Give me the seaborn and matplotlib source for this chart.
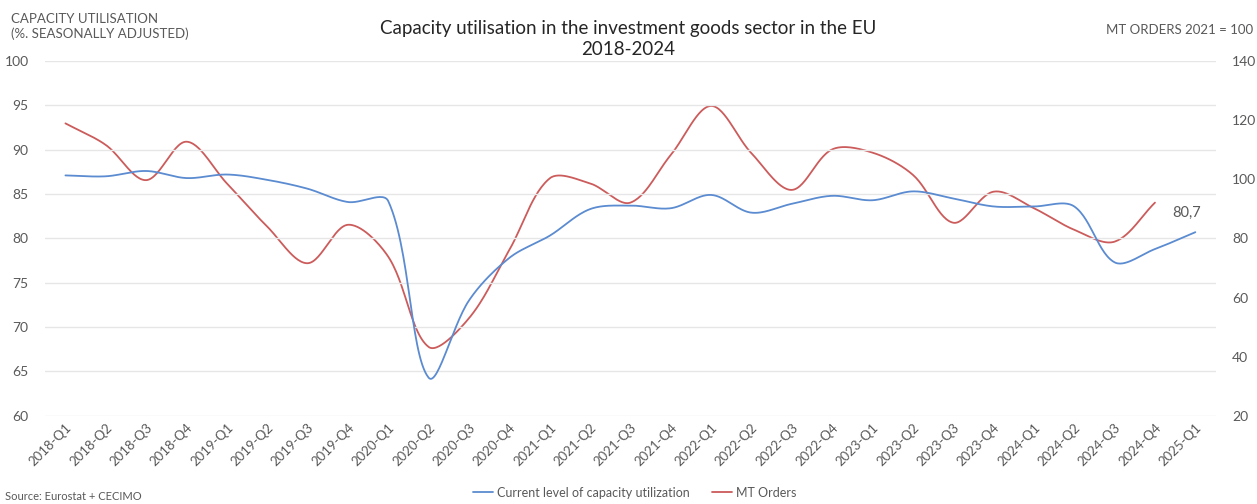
import numpy as np
import pandas as pd
import matplotlib
matplotlib.use("Agg")
import matplotlib.pyplot as plt
import seaborn as sns

# ---- data ----
quarters = ["2018-Q1", "2018-Q2", "2018-Q3", "2018-Q4", "2019-Q1", "2019-Q2", "2019-Q3", "2019-Q4",
            "2020-Q1", "2020-Q2", "2020-Q3", "2020-Q4", "2021-Q1", "2021-Q2", "2021-Q3", "2021-Q4",
            "2022-Q1", "2022-Q2", "2022-Q3", "2022-Q4", "2023-Q1", "2023-Q2", "2023-Q3", "2023-Q4",
            "2024-Q1", "2024-Q2", "2024-Q3", "2024-Q4", "2025-Q1"]
capacity = [87.1, 87.0, 87.6, 86.8, 87.2, 86.6, 85.6, 84.1,
            84.2, 64.3, 73.0, 77.8, 80.3, 83.3, 83.7, 83.4,
            84.9, 82.9, 83.9, 84.8, 84.3, 85.3, 84.5, 83.6,
            83.6, 83.6, 77.3, 78.8, 80.7]
orders = [118.9, 111.6, 99.7, 112.7, 98.6, 84.0, 71.6, 84.6,
          73.8, 43.3, 53.0, 76.1, 100.3, 98.6, 92.1, 108.2,
          124.8, 108.8, 96.4, 110.1, 109.0, 101.5, 85.3, 95.8,
          90.2, 82.9, 78.9, 92.1]
left_ticks = [60, 65, 70, 75, 80, 85, 90, 95, 100]
right_ticks = [20, 40, 60, 80, 100, 120, 140]
series_names = ["Current level of capacity utilization", "MT Orders"]
last_label = "80,7"


def smooth(values, sx, sy, n=30):
    """Excel-like smoothed rendering: cubic Bezier through the data points, with
    tangent arms scaled by the on-screen segment lengths (sx, sy = px per unit)."""
    y = np.asarray(values, float)
    x = np.arange(len(y), dtype=float)
    pts = np.column_stack([x, y])
    scale = np.array([sx, sy])

    def plen(a, b):
        return float(np.hypot(*((b - a) * scale)))

    out = []
    m = len(pts)
    for i in range(m - 1):
        p0 = pts[i - 1] if i > 0 else pts[i]
        p1, p2 = pts[i], pts[i + 1]
        p3 = pts[i + 2] if i + 2 < m else pts[i + 1]
        d01, d12, d23 = plen(p0, p1), plen(p1, p2), plen(p2, p3)
        w1 = d12 / (d01 + d12) if (d01 + d12) > 0 else 0.5
        w2 = d12 / (d12 + d23) if (d12 + d23) > 0 else 0.5
        c1 = p1 + (p2 - p0) * w1 / 3.0
        c2 = p2 - (p3 - p1) * w2 / 3.0
        t = np.linspace(0, 1, n, endpoint=(i == m - 2))[:, None]
        seg = ((1 - t) ** 3) * p1 + 3 * ((1 - t) ** 2) * t * c1 + 3 * (1 - t) * t ** 2 * c2 + t ** 3 * p2
        out.append(seg)
    out = np.vstack(out)
    return pd.DataFrame({"x": out[:, 0], "y": out[:, 1]})


sns.set_theme(style="white")
plt.rcParams["font.family"] = ["Lato", "DejaVu Sans"]

BLUE = "#5B8BD0"
RED = "#CC5B5B"
GREY = "#595959"

W, H = 1257, 504
fig = plt.figure(figsize=(W / 100, H / 100), dpi=100)
box = [0.036, 0.175, 0.931, 0.704]
ax = fig.add_axes(box)
ax2 = ax.twinx()

xpx = box[2] * W / len(quarters)
ypx_left = box[3] * H / (left_ticks[-1] - left_ticks[0])
ypx_right = box[3] * H / (right_ticks[-1] - right_ticks[0])

sns.lineplot(data=smooth(capacity, xpx, ypx_left), x="x", y="y", ax=ax, color=BLUE, linewidth=1.3,
             sort=False, estimator=None, label=series_names[0], legend=False)
sns.lineplot(data=smooth(orders, xpx, ypx_right), x="x", y="y", ax=ax2, color=RED, linewidth=1.3,
             sort=False, estimator=None, label=series_names[1], legend=False)

ax.set_xlim(-0.5, len(quarters) - 0.5)
ax.set_ylim(left_ticks[0], left_ticks[-1])
ax2.set_ylim(right_ticks[0], right_ticks[-1])
ax.set_yticks(left_ticks)
ax2.set_yticks(right_ticks)
ax.set_xticks(range(len(quarters)))
ax.set_xticklabels(quarters, rotation=45, ha="right", rotation_mode="anchor")
ax.set_xlabel("")
ax.set_ylabel("")
ax2.set_ylabel("")

for a in (ax, ax2):
    for s in a.spines.values():
        s.set_visible(False)
    a.tick_params(axis="both", length=0, colors=GREY, labelsize=10)
ax.tick_params(axis="x", labelsize=9.5, pad=4)
ax.tick_params(axis="y", pad=12)
ax2.tick_params(axis="y", pad=12)
ax.grid(axis="y", color="#E6E6E6", linewidth=1)
ax.grid(axis="x", visible=False)
ax2.grid(False)
ax.set_zorder(ax2.get_zorder() + 1)
ax.patch.set_visible(False)

# data label on last capacity point
ax.annotate(last_label, xy=(len(capacity) - 1, capacity[-1]), xytext=(-6, 9),
            textcoords="offset points", ha="center", va="bottom", color=GREY, fontsize=10.5)

# titles and axis captions
fig.text(0.5, 0.96, "Capacity utilisation in the investment goods sector in the EU\n2018-2024",
         ha="center", va="top", fontsize=13.5, color="#262626", linespacing=1.25)
fig.text(0.009, 0.975, "CAPACITY UTILISATION\n(%. SEASONALLY ADJUSTED)", ha="left", va="top",
         fontsize=9.5, color=GREY, linespacing=1.3)
fig.text(0.997, 0.953, "MT ORDERS 2021 = 100", ha="right", va="top", fontsize=9.5, color=GREY)
fig.text(0.004, 0.003, "Source: Eurostat + CECIMO", ha="left", va="bottom", fontsize=8, color=GREY)

h1, l1 = ax.get_legend_handles_labels()
h2, l2 = ax2.get_legend_handles_labels()
fig.legend(h1 + h2, l1 + l2, loc="lower center", bbox_to_anchor=(0.505, -0.012), ncol=2,
           frameon=False, fontsize=9, handlelength=1.6, handletextpad=0.3, columnspacing=1.8,
           labelcolor=GREY)

fig.savefig("out.png", dpi=100)
